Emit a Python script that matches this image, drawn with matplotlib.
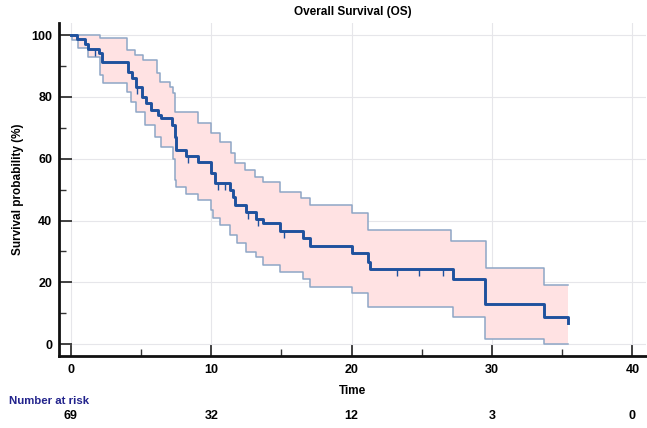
import numpy as np
import matplotlib
matplotlib.use("Agg")
import matplotlib.pyplot as plt
from matplotlib.ticker import MultipleLocator

# ---- data ----
km_time = [0, 0.45, 1.0, 1.25, 2.0, 2.2, 4.05, 4.32, 4.67, 5.03, 5.34, 5.74, 6.22, 6.45,
           7.17, 7.4, 7.52, 8.23, 9.06, 10.0, 10.3, 11.3, 11.55, 11.67, 12.5, 13.2, 13.7,
           14.9, 16.5, 17.0, 20.0, 21.2, 21.3, 27.2, 29.5, 33.7, 35.4]
km_surv = [100, 98.6, 97.1, 95.6, 94.1, 91.2, 88.1, 86.0, 83.1, 80.0, 77.9, 75.7, 74.1, 73.1,
           70.9, 67.1, 62.8, 60.9, 59.0, 55.3, 52.0, 49.9, 47.7, 45.0, 42.9, 40.4, 39.1,
           36.7, 34.3, 31.8, 29.4, 26.5, 24.2, 21.0, 13.0, 8.7, 6.9]
km_end = 35.45

upper_time = [0, 2.06, 4.03, 4.56, 5.15, 6.1, 6.33, 7.05, 7.28, 7.45, 9.06, 10.0, 10.6,
              11.4, 11.7, 12.4, 13.1, 13.7, 14.9, 16.4, 17.0, 20.0, 21.2, 27.1, 29.6, 33.7]
upper_surv = [100, 98.9, 95.1, 93.5, 91.9, 87.6, 84.9, 83.3, 81.1, 75.0, 71.5, 68.2, 65.3,
              61.8, 58.5, 56.4, 54.2, 52.6, 49.3, 47.2, 45.0, 42.4, 37.0, 33.4, 24.6, 19.2]

lower_time = [0, 0.1, 0.5, 1.23, 2.06, 2.3, 4.03, 4.3, 4.67, 5.27, 5.98, 6.45, 7.28, 7.4,
              7.52, 8.23, 9.06, 10.0, 10.13, 10.6, 11.3, 11.8, 12.5, 13.2, 13.7, 14.9,
              16.5, 17.0, 20.0, 21.2, 27.2, 29.5, 33.7]
lower_surv = [100, 98.4, 95.7, 93.0, 87.1, 84.4, 81.7, 78.4, 75.2, 70.9, 67.1, 63.9, 59.8, 53.1,
              51.0, 48.6, 46.7, 43.4, 40.7, 38.6, 35.3, 32.7, 29.9, 28.3, 25.6, 23.5,
              21.0, 18.6, 16.5, 12.2, 8.9, 1.6, 0.1]

censor_time = [1.7, 4.7, 8.35, 10.5, 11.0, 12.6, 13.35, 15.2, 23.2, 24.8, 26.5]

risk_times = [0, 10, 20, 30, 40]
risk_counts = [69, 32, 12, 3, 0]

title = "Overall Survival (OS)"

# ---- helpers ----
def step_value(times, vals, t):
    idx = np.searchsorted(np.asarray(times), t, side="right") - 1
    return np.asarray(vals)[idx]

plt.rcParams['font.family'] = ['Liberation Sans', 'DejaVu Sans']
plt.rcParams['font.weight'] = 'bold'

fig = plt.figure(figsize=(6.47, 4.28), dpi=100)
ax = fig.add_axes([59/647, 1-356/428, 1-59/647-0.001, (356-23)/428])

ax.set_xlim(-0.85, 41.0)
ax.set_ylim(-3.8, 103.9)

# confidence band
grid_t = np.unique(np.concatenate([upper_time, lower_time, [km_end]]))
up_vals = step_value(upper_time, upper_surv, grid_t)
lo_vals = step_value(lower_time, lower_surv, grid_t)
ax.fill_between(grid_t, lo_vals, up_vals, step="post", color="#ffe2e3", lw=0, zorder=1)

ut = list(upper_time) + [km_end]
us = list(upper_surv) + [upper_surv[-1]]
lt = list(lower_time) + [km_end]
ls = list(lower_surv) + [lower_surv[-1]]
ci_col = "#8ea6c6"
ax.step(ut, us, where="post", color=ci_col, lw=1.1, zorder=2)
ax.step(lt, ls, where="post", color=ci_col, lw=1.1, zorder=2)

# KM curve
kt = list(km_time) + [km_end]
ks = list(km_surv) + [km_surv[-1]]
main_col = "#1f519e"
ax.step(kt, ks, where="post", color=main_col, lw=2.1, zorder=4)
cs = step_value(km_time, km_surv, np.array(censor_time))
ax.plot(censor_time, cs, ls="none", marker=3, ms=5, mew=1.0, color=main_col, zorder=4)

# axes styling
for s in ["top", "right"]:
    ax.spines[s].set_visible(False)
for s in ["left", "bottom"]:
    ax.spines[s].set_linewidth(2.0)
    ax.spines[s].set_color("#111111")

ax.xaxis.set_major_locator(MultipleLocator(10))
ax.xaxis.set_minor_locator(MultipleLocator(5))
ax.yaxis.set_major_locator(MultipleLocator(20))
ax.yaxis.set_minor_locator(MultipleLocator(10))
ax.tick_params(which="major", direction="in", length=9, width=1.3, color="#333333",
               labelsize=9, pad=5)
ax.tick_params(which="minor", direction="in", length=5, width=1.0, color="#333333")
ax.tick_params(axis="x", pad=6)
ax.grid(True, which="major", color="#e6e6ea", lw=0.8, zorder=0)
ax.set_axisbelow(True)
for lab in ax.get_xticklabels() + ax.get_yticklabels():
    lab.set_fontweight("bold")

ax.set_ylabel("Survival probability (%)", fontsize=8.5, fontweight="bold", labelpad=5)
ax.set_xlabel("Time", fontsize=8.5, fontweight="bold", labelpad=6)
fig.text(0.5 * (59 + 647) / 647, 1 - 12 / 428, title, ha="center", va="center",
         fontsize=8.5, fontweight="bold")

# number at risk
fig.text(9 / 647, 1 - 401 / 428, "Number at risk", ha="left", va="center",
         fontsize=8.2, fontweight="bold", color="#22238c")
for t, n in zip(risk_times, risk_counts):
    xf = ax.transData.transform((t, 0))[0]
    fig.text(xf / fig.bbox.width, 1 - 416 / 428, str(n), ha="center", va="center",
             fontsize=9, fontweight="bold")

fig.savefig("out.png", dpi=100)
